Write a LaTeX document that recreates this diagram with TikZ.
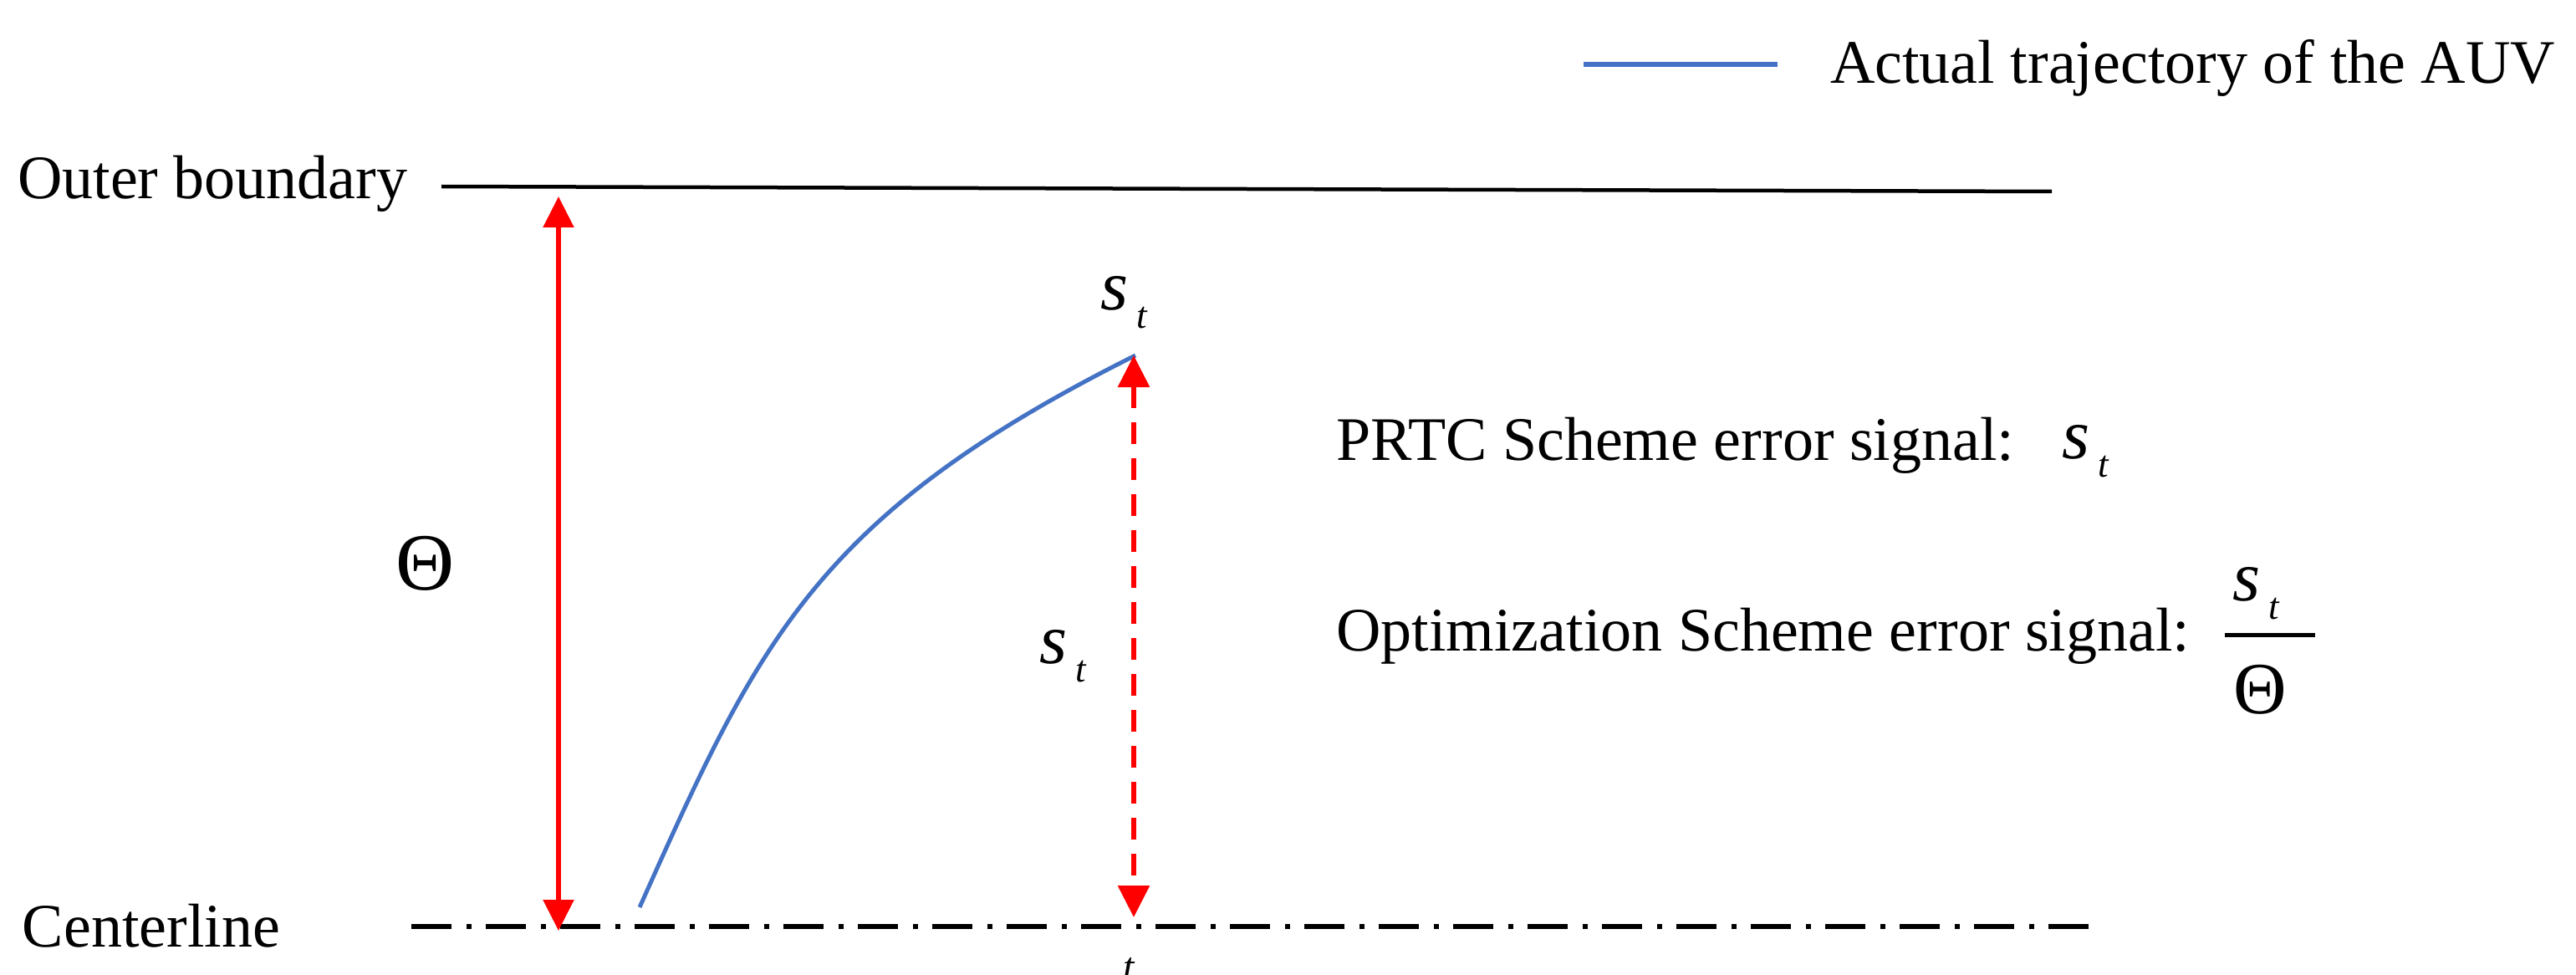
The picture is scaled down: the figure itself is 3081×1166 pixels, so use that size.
\documentclass[tikz,border=0pt]{standalone}
\usepackage{fontspec}
\setmainfont{Liberation Serif}
\usetikzlibrary{arrows.meta}
\definecolor{trajblue}{HTML}{4472C4}
\definecolor{arrred}{HTML}{FF0000}
\newcommand{\setfs}[1]{\fontsize{#1}{#1}\selectfont}
\newcommand{\stlab}{{\setfs{85}\itshape s}\hspace{10pt}\raisebox{-22pt}{\setfs{45}\itshape t}}
\begin{document}
\begin{tikzpicture}[x=1pt,y=-1pt,
  lbl/.style={inner sep=0pt, outer sep=0pt, font=\setfs{74}},
  mathlbl/.style={inner sep=0pt, outer sep=0pt},
  redsolid/.style={draw=arrred, line width=5.5pt, {Triangle[width=36pt,length=37pt]}-{Triangle[width=36pt,length=37pt]}},
  reddashed/.style={draw=arrred, line width=6pt, dash pattern=on 26pt off 17pt, {Triangle[width=37pt,length=38pt]}-{Triangle[width=37pt,length=38pt]}},
  boundary/.style={draw=black, line width=4.5pt},
  centerstyle/.style={draw=black, line width=6pt, dash pattern=on 48pt off 18pt on 6pt off 17pt},
  traj/.style={draw=trajblue, line width=5pt}]
\clip (0,0) rectangle (3081,1166);
\fill[white] (0,0) rectangle (3081,1166);

% legend
\coordinate (legA) at (1894,77);
\coordinate (legB) at (2126,77);
\draw[draw=trajblue, line width=6.5pt] (legA) -- (legB);
\node[lbl, anchor=base west] (legtext) at (2189,100) {Actual trajectory of the AUV};

% outer boundary
\node[lbl, anchor=base west] (outer) at (21,238) {Outer boundary};
\coordinate (obL) at (528,223);
\coordinate (obR) at (2454,229);
\draw[boundary] (obL) -- (obR);

% centerline
\node[lbl, anchor=base west] (center) at (27,1132) {Centerline};
\coordinate (clL) at (492,1108);
\coordinate (clR) at (2505,1108);
\draw[centerstyle] (clL) -- (clR);

% Theta dimension
\coordinate (thTop) at (668,235);
\coordinate (thBot) at (668,1113);
\draw[redsolid] (thTop) -- (thBot);
\node[mathlbl, anchor=base, font=\setfs{97}] (theta) at (509,705) {Θ};

% trajectory
\coordinate (trStart) at (765,1085);
\coordinate (trEnd) at (1358,425);
\draw[traj] (trStart) .. controls (907,768) and (974,617) .. (trEnd);

% s_t dimension
\coordinate (stTop) at (1356,425);
\coordinate (stBot) at (1356,1097);
\draw[reddashed] (stTop) -- (stBot);
\node[mathlbl, anchor=base west] (sttop) at (1316,370) {\stlab};
\node[mathlbl, anchor=base west] (stmid) at (1243,793) {\stlab};
\node[mathlbl, anchor=base west, font=\setfs{48}\itshape] (tbot) at (1343,1172) {t};

% error signals
\node[lbl, anchor=base west] (prtc) at (1598,550) {PRTC Scheme error signal:};
\node[mathlbl, anchor=base west] (prtcst) at (2466,548) {\stlab};
\node[lbl, anchor=base west] (opt) at (1598,778) {Optimization Scheme error signal:};
\node[mathlbl, anchor=base west] (numst) at (2670,718) {\stlab};
\coordinate (barL) at (2661,759);
\coordinate (barR) at (2769,759);
\draw[line width=5pt] (barL) -- (barR);
\node[mathlbl, anchor=base, font=\setfs{88}] (den) at (2703,853) {Θ};
\end{tikzpicture}
\end{document}
